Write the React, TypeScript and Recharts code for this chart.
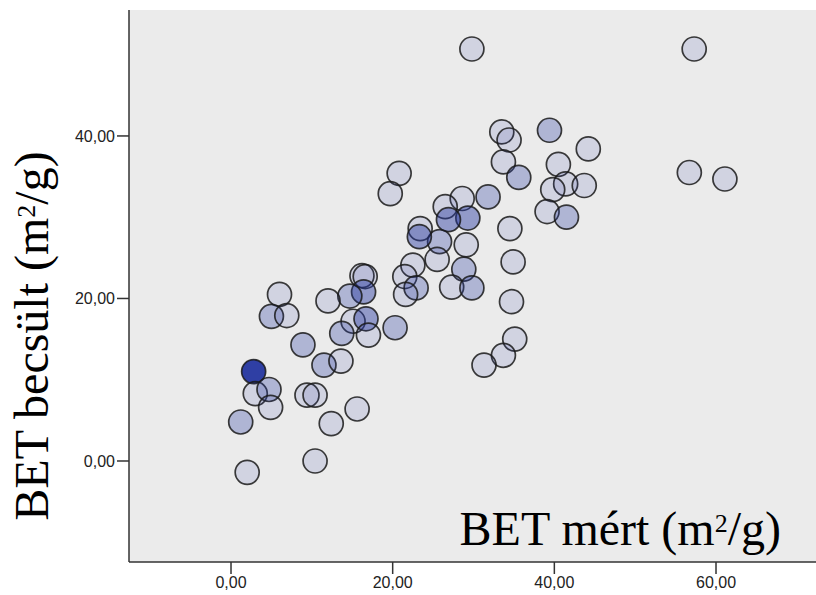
import { CartesianGrid, Scatter, ScatterChart, XAxis, YAxis } from 'recharts'

// BET measured (x) vs estimated (y), m2/g
const measured = [
  33.5, 34.4, 39.4, 44.2, 33.7, 35.6, 40.5, 41.4, 43.7, 39.8, 39.1, 41.5, 56.7, 61.1,
  31.8, 28.6, 26.5, 29.3, 26.9, 25.8, 29.1, 34.5, 34.9, 25.5, 28.8, 27.3, 29.8, 34.7,
  35.1, 33.7, 31.3, 29.8, 57.3, 20.8, 19.7, 23.4, 23.3, 22.5, 21.5, 22.9, 21.6, 16.2,
  16.6, 16.4, 14.7, 12.0, 6.0, 5.0, 6.9, 15.1, 16.7, 20.3, 8.9, 13.7, 17.0, 11.5,
  13.6, 2.8, 3.0, 4.7, 4.9, 9.4, 10.4, 15.6, 12.4, 1.2, 10.4, 2.0,
]
const estimated = [
  40.5, 39.5, 40.7, 38.4, 36.8, 34.9, 36.5, 34.1, 33.9, 33.4, 30.7, 30.0, 35.5, 34.7,
  32.5, 32.3, 31.3, 29.9, 29.7, 27.0, 26.6, 28.6, 24.5, 24.8, 23.6, 21.4, 21.3, 19.6,
  15.0, 13.0, 11.8, 50.7, 50.7, 35.4, 32.9, 28.6, 27.6, 24.1, 22.7, 21.3, 20.5, 22.8,
  22.7, 20.8, 20.3, 19.7, 20.5, 17.8, 17.9, 17.2, 17.5, 16.4, 14.3, 15.7, 15.5, 11.8,
  12.3, 11.0, 8.3, 8.8, 6.6, 8.1, 8.1, 6.4, 4.6, 4.8, 0.0, -1.4,
]
// number of cases sitting on the same spot
const cases = [
  1, 1, 2, 1, 1, 2, 1, 1, 1, 1, 1, 2, 1, 1,
  2, 1, 1, 3, 3, 2, 1, 1, 1, 1, 2, 1, 2, 1,
  1, 1, 1, 1, 1, 1, 1, 1, 3, 1, 1, 2, 1, 1,
  1, 3, 2, 1, 1, 2, 1, 1, 3, 2, 2, 2, 1, 2,
  1, 8, 1, 2, 1, 1, 1, 1, 1, 2, 1, 1,
]

const xTicks = [0, 20, 40, 60]
const yTicks = [0, 20, 40]

const points = measured.map((x, i) => ({ x, y: estimated[i], n: cases[i] }))

const SHADE: Record<number, number> = { 1: 0.13, 2: 0.3, 3: 0.45, 8: 0.96 }

const fmt = (v: number) => v.toFixed(2).replace('.', ',')

const tickStyle = { fontFamily: '"Liberation Sans", Arial, sans-serif', fontSize: 16, fill: '#222' }

function Dot(props: any) {
  const { cx, cy, payload } = props
  return (
    <circle
      cx={cx}
      cy={cy}
      r={12}
      fill="#2637a0"
      fillOpacity={SHADE[payload.n] ?? 0.13}
      stroke="#1a1a1a"
      strokeOpacity={0.85}
      strokeWidth={1.7}
    />
  )
}

export default function App() {
  return (
    <div style={{ position: 'absolute', left: 0, top: 0, width: 816, height: 595, background: '#fff' }}>
      <ScatterChart width={816} height={595} margin={{ top: 10, right: 0, bottom: 0, left: 0 }}>
        <CartesianGrid fill="#ebebeb" stroke="none" horizontal={false} vertical={false} />
        <XAxis
          type="number"
          dataKey="x"
          domain={[-12.62, 72.37]}
          allowDataOverflow
          ticks={xTicks}
          tickFormatter={fmt}
          height={33}
          tickSize={12}
          tickMargin={3}
          stroke="#333"
          strokeWidth={1.5}
          tick={tickStyle}
        />
        <YAxis
          type="number"
          dataKey="y"
          domain={[-12.43, 55.5]}
          allowDataOverflow
          ticks={yTicks}
          tickFormatter={fmt}
          width={129}
          tickSize={12}
          tickMargin={2}
          stroke="#333"
          strokeWidth={1.5}
          tick={tickStyle}
        />
        <Scatter data={points} shape={Dot} isAnimationActive={false} />
      </ScatterChart>
      <svg
        width={816}
        height={595}
        style={{ position: 'absolute', left: 0, top: 0, pointerEvents: 'none' }}
        fontFamily='"Liberation Serif", "Times New Roman", serif'
        fontSize={48}
      >
        <text x={781} y={545} textAnchor="end" fill="#000">
          BET mért (m
          <tspan fontSize={26} dy={-13}>2</tspan>
          <tspan dy={13}>/g)</tspan>
        </text>
        <text transform="translate(48,336) rotate(-90)" textAnchor="middle" fill="#000">
          BET becsült (m
          <tspan fontSize={26} dy={-13}>2</tspan>
          <tspan dy={13}>/g)</tspan>
        </text>
      </svg>
    </div>
  )
}
